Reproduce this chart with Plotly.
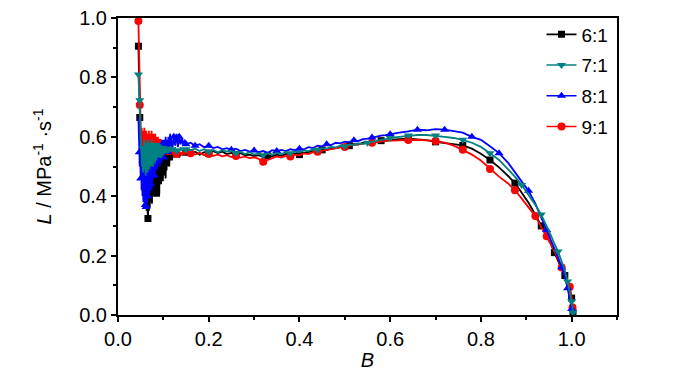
import numpy as np
import plotly.graph_objects as go

# ---------------- data ----------------
B_grid = [0.045, 0.046, 0.047, 0.048,
          0.049, 0.050, 0.051, 0.052, 0.053, 0.054, 0.055, 0.056, 0.057, 0.058,
          0.059, 0.060, 0.061, 0.062, 0.063, 0.064, 0.065, 0.066, 0.067, 0.068,
          0.069, 0.070, 0.071, 0.072, 0.073, 0.074, 0.075, 0.076, 0.077, 0.078,
          0.079, 0.080, 0.081, 0.082, 0.083, 0.084, 0.085, 0.086, 0.087, 0.088,
          0.089, 0.090, 0.091, 0.092, 0.093, 0.094, 0.095, 0.096, 0.097, 0.098,
          0.099, 0.100, 0.101, 0.102, 0.103, 0.104, 0.105, 0.106, 0.107, 0.108,
          0.109, 0.110, 0.111, 0.112, 0.113, 0.114, 0.115, 0.116, 0.117, 0.118,
          0.119, 0.120,
          0.123, 0.126, 0.129, 0.132, 0.135, 0.138, 0.141, 0.144, 0.147, 0.150,
          0.16, 0.17, 0.18, 0.19, 0.20, 0.21, 0.22, 0.23, 0.24, 0.25,
          0.26, 0.27, 0.28, 0.29, 0.30, 0.31, 0.32, 0.33, 0.34, 0.35,
          0.36, 0.37, 0.38, 0.39, 0.40, 0.41, 0.42, 0.43, 0.44, 0.45,
          0.46, 0.47, 0.48, 0.49, 0.50, 0.51, 0.52, 0.53, 0.54, 0.55,
          0.56, 0.57, 0.58, 0.59, 0.60,
          0.62, 0.64, 0.66, 0.68, 0.70, 0.72, 0.74, 0.76, 0.78, 0.80,
          0.82, 0.84, 0.86,
          0.875, 0.89, 0.905, 0.92, 0.933, 0.945, 0.955, 0.962, 0.970, 0.978,
          0.985, 0.991, 0.996, 1.000, 1.002, 1.003]

L_6 = [0.905, 0.82, 0.74, 0.665,
       0.60, 0.52, 0.47, 0.50, 0.44, 0.48, 0.41, 0.46, 0.39, 0.45,
       0.37, 0.43, 0.36, 0.41, 0.35, 0.40, 0.34, 0.325, 0.38, 0.35,
       0.43, 0.36, 0.46, 0.38, 0.50, 0.40, 0.375, 0.48, 0.41, 0.52,
       0.42, 0.49, 0.40, 0.51, 0.43, 0.52, 0.41, 0.50, 0.44, 0.53,
       0.42, 0.52, 0.409, 0.53, 0.45, 0.52, 0.44, 0.54, 0.46, 0.53,
       0.45, 0.54, 0.47, 0.53, 0.48, 0.545, 0.46, 0.54, 0.487, 0.55,
       0.50, 0.54, 0.51, 0.55, 0.50, 0.545, 0.52, 0.55, 0.53, 0.545,
       0.52, 0.55,
       0.53, 0.55, 0.535, 0.548, 0.53, 0.545, 0.54, 0.552, 0.54, 0.548,
       0.545, 0.55, 0.54, 0.548, 0.545, 0.552, 0.545, 0.55, 0.542, 0.546,
       0.54, 0.545, 0.538, 0.54, 0.535, 0.538, 0.532, 0.536, 0.534, 0.54,
       0.536, 0.542, 0.538, 0.544, 0.54, 0.546, 0.548, 0.552, 0.55, 0.556,
       0.555, 0.56, 0.562, 0.565, 0.568, 0.57, 0.575, 0.574, 0.58, 0.578,
       0.584, 0.582, 0.587, 0.586, 0.59,
       0.592, 0.594, 0.591, 0.589, 0.583, 0.579, 0.576, 0.571, 0.560, 0.543,
       0.522, 0.497, 0.468,
       0.444, 0.412, 0.378, 0.338, 0.300, 0.264, 0.236, 0.210, 0.180, 0.155,
       0.133, 0.108, 0.084, 0.057, 0.030, 0.008]

L_7 = [0.81, 0.78, 0.75, 0.723,
       0.66, 0.60, 0.55, 0.58, 0.50, 0.57, 0.48, 0.56, 0.50, 0.59,
       0.49, 0.57, 0.47, 0.58, 0.50, 0.56, 0.48, 0.59, 0.51, 0.57,
       0.49, 0.58, 0.51, 0.56, 0.50, 0.59, 0.52, 0.57, 0.50, 0.58,
       0.52, 0.57, 0.51, 0.58, 0.53, 0.56, 0.52, 0.58, 0.54, 0.57,
       0.53, 0.58, 0.54, 0.56, 0.53, 0.575, 0.54, 0.56, 0.545, 0.57,
       0.54, 0.565, 0.55, 0.57, 0.545, 0.56, 0.55, 0.57, 0.545, 0.565,
       0.55, 0.56, 0.545, 0.565, 0.55, 0.56, 0.552, 0.568, 0.55, 0.56,
       0.555, 0.565,
       0.55, 0.565, 0.552, 0.56, 0.55, 0.565, 0.553, 0.56, 0.552, 0.558,
       0.555, 0.56, 0.552, 0.558, 0.55, 0.556, 0.548, 0.555, 0.55, 0.553,
       0.545, 0.55, 0.542, 0.548, 0.54, 0.545, 0.538, 0.544, 0.54, 0.546,
       0.542, 0.548, 0.545, 0.55, 0.548, 0.554, 0.552, 0.558, 0.556, 0.562,
       0.56, 0.566, 0.564, 0.57, 0.568, 0.574, 0.572, 0.578, 0.576, 0.58,
       0.583, 0.586, 0.59, 0.592, 0.596,
       0.600, 0.604, 0.606, 0.606, 0.604, 0.600, 0.596, 0.590, 0.580, 0.566,
       0.545, 0.522, 0.490,
       0.466, 0.438, 0.405, 0.370, 0.338, 0.300, 0.266, 0.240, 0.214, 0.180,
       0.150, 0.113, 0.080, 0.046, 0.025, 0.008]

L_8 = [0.665, 0.62, 0.548, 0.50,
       0.55, 0.46, 0.53, 0.42, 0.50, 0.40, 0.52, 0.38, 0.47, 0.40,
       0.50, 0.37, 0.48, 0.364, 0.45, 0.38, 0.50, 0.40, 0.47, 0.42,
       0.52, 0.41, 0.50, 0.44, 0.53, 0.42, 0.51, 0.45, 0.55, 0.46,
       0.53, 0.47, 0.56, 0.48, 0.54, 0.50, 0.57, 0.49, 0.55, 0.51,
       0.57, 0.52, 0.56, 0.50, 0.58, 0.53, 0.56, 0.52, 0.59, 0.54,
       0.57, 0.53, 0.59, 0.55, 0.58, 0.54, 0.60, 0.55, 0.576, 0.56,
       0.59, 0.55, 0.60, 0.56, 0.59, 0.57, 0.61, 0.56, 0.60, 0.57,
       0.59, 0.56,
       0.60, 0.57, 0.61, 0.565, 0.60, 0.575, 0.595, 0.57, 0.59, 0.575,
       0.58, 0.57, 0.575, 0.565, 0.57, 0.562, 0.566, 0.558, 0.562, 0.556,
       0.56, 0.552, 0.556, 0.55, 0.554, 0.548, 0.552, 0.546, 0.555, 0.552,
       0.556, 0.552, 0.558, 0.555, 0.56, 0.558, 0.565, 0.562, 0.57, 0.568,
       0.575, 0.572, 0.58, 0.578, 0.584, 0.582, 0.588, 0.586, 0.592, 0.594,
       0.598, 0.60, 0.604, 0.606, 0.609,
       0.614, 0.618, 0.624, 0.622, 0.626, 0.624, 0.620, 0.614, 0.600, 0.590,
       0.568, 0.545, 0.512,
       0.480, 0.448, 0.418, 0.375, 0.328, 0.286, 0.250, 0.225, 0.195, 0.160,
       0.130, 0.090, 0.055, 0.020, 0.010, 0.004]

L_9 = [0.99, 0.90, 0.80, 0.707,
       0.66, 0.632, 0.60, 0.63, 0.57, 0.62, 0.56, 0.61, 0.57, 0.63,
       0.56, 0.60, 0.55, 0.62, 0.57, 0.60, 0.55, 0.61, 0.56, 0.62,
       0.55, 0.60, 0.57, 0.61, 0.55, 0.62, 0.56, 0.60, 0.55, 0.61,
       0.56, 0.59, 0.55, 0.61, 0.56, 0.60, 0.55, 0.59, 0.54, 0.60,
       0.55, 0.58, 0.54, 0.59, 0.55, 0.585, 0.545, 0.58, 0.55, 0.575,
       0.54, 0.57, 0.55, 0.575, 0.545, 0.565, 0.54, 0.57, 0.55, 0.56,
       0.54, 0.565, 0.545, 0.56, 0.54, 0.555, 0.545, 0.56, 0.54, 0.555,
       0.545, 0.555,
       0.54, 0.55, 0.542, 0.552, 0.54, 0.548, 0.538, 0.55, 0.542, 0.546,
       0.545, 0.54, 0.546, 0.538, 0.542, 0.536, 0.54, 0.534, 0.538, 0.532,
       0.535, 0.53, 0.533, 0.528, 0.531, 0.526, 0.516, 0.522, 0.528, 0.534,
       0.53, 0.536, 0.534, 0.54, 0.538, 0.544, 0.542, 0.548, 0.55, 0.553,
       0.556, 0.558, 0.562, 0.564, 0.566, 0.57, 0.572, 0.575, 0.577, 0.58,
       0.58, 0.583, 0.584, 0.586, 0.586,
       0.588, 0.589, 0.59, 0.588, 0.586, 0.580, 0.570, 0.556, 0.540, 0.520,
       0.492, 0.466, 0.443,
       0.420, 0.392, 0.363, 0.333, 0.296, 0.265, 0.236, 0.215, 0.190, 0.160,
       0.138, 0.115, 0.095, 0.060, 0.025, 0.008]

# B positions of the data points that carry a symbol
mk_6 = [0.045, 0.048, 0.066, 0.085, 0.10, 0.12, 0.15, 0.20, 0.26, 0.33, 0.40, 0.45,
        0.51, 0.58, 0.64, 0.70, 0.76, 0.82, 0.875, 0.933, 0.962, 0.985, 1.0, 1.003]
mk_7 = [0.045, 0.048, 0.056, 0.068, 0.08, 0.095, 0.11, 0.129, 0.15, 0.20, 0.26, 0.32,
        0.38, 0.44, 0.50, 0.55, 0.60, 0.64, 0.70, 0.76, 0.82, 0.89, 0.933, 0.970,
        0.991, 1.0, 1.003]
mk_8 = [0.047, 0.050, 0.055, 0.060, 0.062, 0.066, 0.072, 0.080, 0.090, 0.100, 0.110,
        0.123, 0.135, 0.150, 0.17, 0.20, 0.25, 0.30, 0.35, 0.40, 0.46, 0.52, 0.56,
        0.60, 0.66, 0.72, 0.78, 0.84, 0.905, 0.945, 0.978, 0.991, 1.0]
mk_9 = [0.045, 0.048, 0.055, 0.065, 0.075, 0.09, 0.11, 0.129, 0.16, 0.20, 0.26, 0.32,
        0.38, 0.44, 0.50, 0.56, 0.64, 0.70, 0.76, 0.82, 0.875, 0.92, 0.945, 0.978,
        0.996, 1.002]

series_names = ["6:1", "7:1", "8:1", "9:1"]
x_ticks = [0.0, 0.2, 0.4, 0.6, 0.8, 1.0]
y_ticks = [0.0, 0.2, 0.4, 0.6, 0.8, 1.0]

# ---------------- styling ----------------
styles = {
    "6:1": dict(color="#000000", symbol="square", size=7),
    "7:1": dict(color="#008080", symbol="triangle-down", size=8),
    "8:1": dict(color="#0000FF", symbol="triangle-up", size=8),
    "9:1": dict(color="#FF0000", symbol="circle", size=8),
}
data = {"6:1": (L_6, mk_6), "7:1": (L_7, mk_7), "8:1": (L_8, mk_8), "9:1": (L_9, mk_9)}
Barr = np.array(B_grid)

FONT = "Liberation Sans, Arial, sans-serif"
fig = go.Figure()

draw_order = ["6:1", "9:1", "8:1", "7:1"]
for name in draw_order:
    L, mk = data[name]
    st = styles[name]
    rank = series_names.index(name) + 1
    idx = [int(np.argmin(np.abs(Barr - b))) for b in mk]
    fig.add_trace(go.Scatter(x=B_grid, y=L, mode="lines",
                             line=dict(color=st["color"], width=1.8),
                             showlegend=False, hoverinfo="skip"))
    fig.add_trace(go.Scatter(x=[B_grid[i] for i in idx], y=[L[i] for i in idx],
                             mode="markers",
                             marker=dict(color=st["color"], symbol=st["symbol"], size=st["size"]),
                             showlegend=False))
    fig.add_trace(go.Scatter(x=[None], y=[None], mode="lines+markers", name=name,
                             line=dict(color=st["color"], width=1.6),
                             marker=dict(color=st["color"], symbol=st["symbol"], size=st["size"]),
                             legendgroup=name, legendrank=rank))

axis_common = dict(
    showline=True, linecolor="black", linewidth=2, mirror=True,
    ticks="outside", ticklen=5, tickwidth=1.5, tickcolor="black",
    showgrid=False, zeroline=False, automargin=False,
    ticklabeloverflow="allow",
    tickfont=dict(family=FONT, size=20, color="black"),
    tickformat=".1f",
)

fig.update_xaxes(range=[0, 1.1], tickvals=x_ticks,
                 minor=dict(dtick=0.1, tick0=0, ticks="outside", ticklen=3, tickwidth=1.5, tickcolor="black"),
                 title=dict(text="<i>B</i>", font=dict(family=FONT, size=20, color="black"), standoff=4),
                 **axis_common)
fig.update_yaxes(range=[0, 1.0], tickvals=y_ticks,
                 minor=dict(dtick=0.1, tick0=0, ticks="outside", ticklen=3, tickwidth=1.5, tickcolor="black"),
                 title=dict(text="<i>L</i> / MPa<sup>-1</sup> ·s<sup>-1</sup>",
                            font=dict(family=FONT, size=20, color="black"), standoff=22),
                 **axis_common)

# the page body has an 8 px margin, so the figure is sized to fit the 700x374 window
fig.update_layout(
    width=692, height=366,
    margin=dict(l=110, r=83, t=9, b=59),
    paper_bgcolor="white", plot_bgcolor="white",
    showlegend=True,
    legend=dict(x=0.993, y=1.005, xanchor="right", yanchor="top",
                font=dict(family=FONT, size=19, color="black"),
                bgcolor="rgba(0,0,0,0)", tracegroupgap=3, itemwidth=30),
)

fig.write_html("out.html")
